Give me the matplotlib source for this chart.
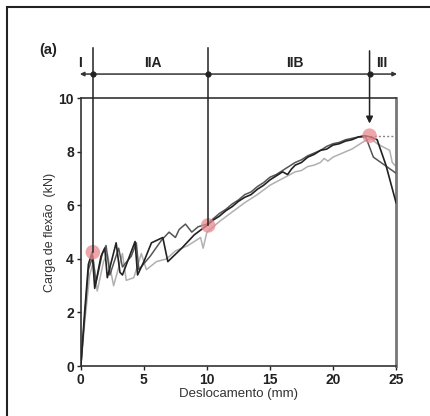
import numpy as np
import matplotlib.pyplot as plt
from matplotlib.patches import Rectangle

# três ensaios (deslocamento mm, carga kN)
x_preto = [0, 0.3, 0.6, 0.9, 1.1, 1.6, 1.9, 2.1, 2.8, 3.1, 3.3, 4.3, 4.5, 5.0, 5.6, 6.5, 6.9, 8.0, 9.0, 10.0,
           10.5, 11, 11.5, 12, 12.5, 13, 13.5, 14, 14.5, 15, 15.5, 16, 16.4, 16.7, 17, 17.5, 18, 18.5, 19,
           19.5, 20, 20.5, 21, 21.5, 22, 22.5, 23.0, 23.5, 24.2, 25]
y_preto = [0, 2.0, 3.8, 4.25, 2.9, 4.1, 4.4, 3.3, 4.6, 3.5, 3.4, 4.65, 3.4, 3.9, 4.6, 4.8, 3.9, 4.4, 4.9, 5.25,
           5.45, 5.6, 5.8, 5.95, 6.15, 6.3, 6.4, 6.6, 6.75, 6.95, 7.1, 7.25, 7.15, 7.35, 7.5, 7.6, 7.8, 7.9, 8.05,
           8.1, 8.25, 8.3, 8.4, 8.45, 8.55, 8.6, 8.55, 8.45, 7.5, 6.1]

x_cinza = [0, 0.3, 0.6, 0.95, 1.2, 1.7, 2.0, 2.3, 3.0, 3.3, 4.0, 4.4, 4.6, 5.5, 6.4, 7.0, 7.5, 7.8, 8.3, 8.8,
           9.3, 10.0, 10.5, 11, 11.5, 12, 12.5, 13, 13.5, 14, 14.5, 15, 15.5, 16, 16.5, 17, 17.5, 18, 18.5, 19,
           19.5, 20, 20.5, 21, 21.5, 22, 22.6, 22.8, 23.2, 25]
y_cinza = [0, 1.8, 3.6, 4.1, 3.1, 4.2, 4.5, 3.4, 4.4, 3.7, 4.1, 4.6, 3.6, 4.1, 4.7, 5.0, 4.8, 5.1, 5.3, 5.0,
           5.2, 5.3, 5.5, 5.7, 5.85, 6.05, 6.2, 6.4, 6.5, 6.7, 6.85, 7.05, 7.15, 7.3, 7.45, 7.6, 7.7, 7.85, 7.95,
           8.05, 8.2, 8.3, 8.35, 8.45, 8.5, 8.55, 8.55, 8.3, 7.8, 7.2]

x_claro = [0, 0.3, 0.7, 1.0, 1.3, 1.8, 2.1, 2.6, 3.3, 3.6, 4.2, 4.8, 5.2, 6.0, 6.8, 7.5, 8.5, 9.5, 9.7, 10.0,
           11, 12, 13, 14, 15, 16, 17, 17.5, 18, 18.5, 19, 19.3, 19.6, 20, 20.5, 21, 21.5, 22, 22.5, 23.0, 23.5,
           24.5, 24.7, 25]
y_claro = [0, 1.6, 3.4, 3.9, 2.8, 3.9, 4.2, 3.0, 4.2, 3.2, 3.3, 4.2, 3.6, 3.9, 4.0, 4.3, 4.5, 4.8, 4.4, 5.0,
           5.4, 5.75, 6.1, 6.4, 6.75, 7.0, 7.25, 7.3, 7.45, 7.5, 7.6, 7.75, 7.65, 7.8, 7.9, 8.0, 8.1, 8.25, 8.4,
           8.5, 8.3, 8.05, 7.6, 7.45]

# pontos de transição entre fases
x_fase = [0.95, 10.1, 22.9]
y_fase = [4.25, 5.25, 8.6]
rotulos = ['I', 'IIA', 'IIB', 'III']
x_rotulos = [-0.1, 5.7, 17.0, 23.9]

plt.rcParams['font.family'] = ['Liberation Sans', 'DejaVu Sans']

fig = plt.figure(figsize=(4.3, 4.16), dpi=100)
ax = fig.add_axes([0.188, 0.12, 0.733, 0.644])

ax.plot(x_claro, y_claro, color='#b0b0b0', lw=1.1, zorder=2)
ax.plot(x_cinza, y_cinza, color='#555555', lw=1.1, zorder=3)
ax.plot(x_preto, y_preto, color='#222222', lw=1.2, zorder=4)

ax.scatter(x_fase, y_fase, s=110, color='#e88a8f', alpha=0.75, edgecolors='none', zorder=5)
ax.plot([x_fase[2], 25], [y_fase[2], y_fase[2]], ls=(0, (1.5, 1.5)), color='#888888', lw=1.0, zorder=3)

ax.set_xlim(0, 25)
ax.set_ylim(0, 10)
ax.set_xticks(range(0, 26, 5))
ax.set_yticks(range(0, 11, 2))
ax.tick_params(direction='out', length=3, width=1, labelsize=10, colors='#222222', pad=2)
for lab in ax.get_xticklabels() + ax.get_yticklabels():
    lab.set_fontweight('bold')
for s in ax.spines.values():
    s.set_linewidth(1.2)
    s.set_color('#333333')
ax.spines['right'].set_color('#777777')
ax.spines['right'].set_linewidth(2)

ax.set_xlabel('Deslocamento (mm)', fontsize=9.5, color='#333333', labelpad=1)
ax.set_ylabel('Carga de flexão  (kN)', fontsize=9, color='#333333', labelpad=2)

# linhas de fase acima do gráfico
y_topo = 11.87
y_seta = 10.9
ax.plot([x_fase[0], x_fase[0]], [y_topo, y_fase[0]], color='#222222', lw=1.1, clip_on=False, zorder=6)
ax.plot([x_fase[1], x_fase[1]], [y_topo, y_fase[1]], color='#222222', lw=1.1, clip_on=False, zorder=6)
ax.annotate('', xy=(x_fase[2], 8.95), xytext=(x_fase[2], y_topo),
            arrowprops=dict(arrowstyle='-|>', color='#222222', lw=1.1, mutation_scale=10),
            annotation_clip=False, zorder=6)
ax.annotate('', xy=(25.3, y_seta), xytext=(-0.3, y_seta),
            arrowprops=dict(arrowstyle='<|-|>', color='#333333', lw=1.1, mutation_scale=6),
            annotation_clip=False)
ax.scatter(x_fase, [y_seta] * 3, s=12, color='#222222', clip_on=False, zorder=7)
for xr, t in zip(x_rotulos, rotulos):
    ax.text(xr, 11.3, t, ha='center', va='center', fontsize=10, fontweight='bold', color='#222222')

fig.text(0.112, 0.88, '(a)', ha='center', va='center', fontsize=10.5, fontweight='bold', color='#222222')

fig.patches.append(Rectangle((7 / 430, -0.1), 1.2, 1.1 - 7 / 416, transform=fig.transFigure,
                             fill=False, edgecolor='#222222', lw=1.5))

fig.savefig('out.png', dpi=100)
